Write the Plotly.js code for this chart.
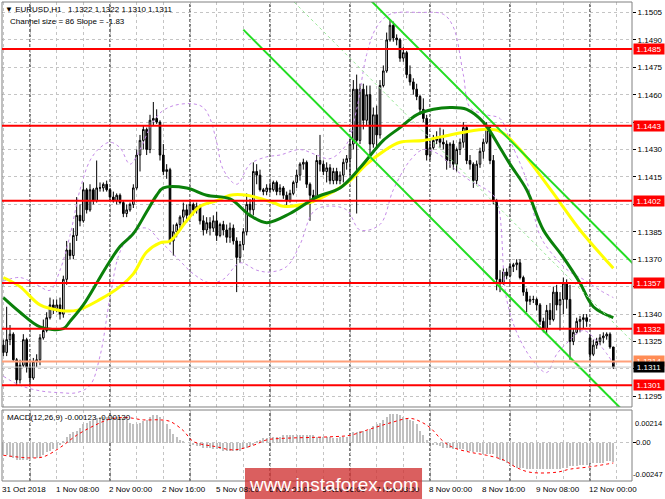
<!DOCTYPE html>
<html><head><meta charset="utf-8">
<script src="https://cdn.plot.ly/plotly-3.0.1.min.js"></script>
<style>html,body{margin:0;padding:0;background:#fff;overflow:hidden}#chart{width:665px;height:499px}</style>
</head><body><div id="chart"></div>
<script>
// ---- DATA (EURUSD H1, bar index 0 = 31 Oct 2018 16:00) ----
const openP = [1.1323,1.1319,1.1326,1.1329,1.1315,1.1304,1.1312,1.1326,1.1311,1.1305,
1.1314,1.1315,1.1327,1.1331,1.1338,1.1345,1.1343,1.1345,1.1340,1.1359,
1.1375,1.1372,1.1383,1.1394,1.1391,1.1408,1.1397,1.1408,1.1402,1.1409,
1.1409,1.1411,1.1408,1.1404,1.1402,1.1405,1.1401,1.1395,1.1397,1.1400,
1.1409,1.1427,1.1435,1.1441,1.1430,1.1446,1.1447,1.1445,1.1427,1.1418,
1.1419,1.1380,1.1385,1.1389,1.1393,1.1397,1.1394,1.1400,1.1397,1.1399,
1.1391,1.1386,1.1390,1.1387,1.1391,1.1383,1.1389,1.1386,1.1382,1.1387,
1.1380,1.1371,1.1378,1.1385,1.1400,1.1397,1.1418,1.1416,1.1408,1.1407,
1.1409,1.1408,1.1412,1.1407,1.1409,1.1405,1.1402,1.1406,1.1412,1.1416,
1.1422,1.1423,1.1411,1.1405,1.1403,1.1424,1.1422,1.1418,1.1420,1.1413,
1.1418,1.1413,1.1416,1.1423,1.1425,1.1433,1.1463,1.1435,1.1463,1.1446,
1.1460,1.1433,1.1449,1.1438,1.1465,1.1473,1.1490,1.1498,1.1491,1.1490,
1.1480,1.1483,1.1471,1.1467,1.1463,1.1459,1.1452,1.1447,1.1427,1.1431,
1.1435,1.1436,1.1434,1.1433,1.1424,1.1433,1.1422,1.1430,1.1434,1.1442,
1.1424,1.1422,1.1413,1.1422,1.1429,1.1434,1.1442,1.1424,1.1402,1.1359,
1.1357,1.1363,1.1361,1.1366,1.1367,1.1368,1.1360,1.1352,1.1347,1.1348,
1.1348,1.1345,1.1336,1.1332,1.1342,1.1337,1.1352,1.1345,1.1348,1.1357,
1.1348,1.1325,1.1330,1.1336,1.1337,1.1338,1.1327,1.1318,1.1323,1.1325,
1.1327,1.1328,1.1329,1.1322];
const highP = [1.1326,1.1344,1.1334,1.1330,1.1316,1.1315,1.1329,1.1327,1.1314,1.1316,
1.1318,1.1329,1.1337,1.1341,1.1349,1.1348,1.1348,1.1349,1.1361,1.1380,
1.1379,1.1387,1.1404,1.1400,1.1412,1.1409,1.1411,1.1409,1.1424,1.1412,
1.1412,1.1413,1.1409,1.1407,1.1406,1.1406,1.1402,1.1400,1.1401,1.1411,
1.1430,1.1438,1.1443,1.1442,1.1449,1.1456,1.1452,1.1446,1.1433,1.1422,
1.1420,1.1389,1.1390,1.1394,1.1401,1.1400,1.1402,1.1401,1.1401,1.1400,
1.1394,1.1393,1.1393,1.1394,1.1396,1.1390,1.1391,1.1389,1.1390,1.1389,
1.1382,1.1380,1.1387,1.1406,1.1403,1.1423,1.1422,1.1419,1.1409,1.1411,
1.1412,1.1413,1.1413,1.1411,1.1410,1.1407,1.1408,1.1413,1.1419,1.1423,
1.1425,1.1424,1.1412,1.1408,1.1427,1.1438,1.1424,1.1423,1.1422,1.1420,
1.1420,1.1418,1.1425,1.1427,1.1436,1.1468,1.1471,1.1466,1.1466,1.1465,
1.1465,1.1453,1.1454,1.1468,1.1476,1.1494,1.1501,1.1500,1.1493,1.1491,
1.1486,1.1484,1.1476,1.1469,1.1466,1.1460,1.1458,1.1449,1.1435,1.1438,
1.1440,1.1442,1.1441,1.1435,1.1434,1.1435,1.1431,1.1436,1.1445,1.1443,
1.1427,1.1423,1.1424,1.1431,1.1436,1.1445,1.1443,1.1427,1.1403,1.1364,
1.1365,1.1365,1.1368,1.1368,1.1370,1.1370,1.1361,1.1354,1.1350,1.1350,
1.1349,1.1346,1.1338,1.1345,1.1346,1.1355,1.1356,1.1352,1.1360,1.1359,
1.1356,1.1332,1.1338,1.1339,1.1340,1.1340,1.1329,1.1326,1.1327,1.1329,
1.1330,1.1330,1.1330,1.1322];
const lowP = [1.1317,1.1317,1.1323,1.1314,1.1301,1.1302,1.1311,1.1308,1.1301,1.1304,
1.1311,1.1312,1.1326,1.1330,1.1337,1.1340,1.1341,1.1337,1.1338,1.1356,
1.1370,1.1370,1.1380,1.1388,1.1390,1.1395,1.1396,1.1400,1.1401,1.1407,
1.1407,1.1407,1.1402,1.1401,1.1400,1.1400,1.1393,1.1393,1.1396,1.1398,
1.1408,1.1418,1.1430,1.1427,1.1428,1.1443,1.1444,1.1424,1.1416,1.1414,
1.1378,1.1372,1.1382,1.1386,1.1389,1.1390,1.1393,1.1394,1.1395,1.1389,
1.1383,1.1384,1.1383,1.1385,1.1380,1.1382,1.1383,1.1379,1.1379,1.1378,
1.1352,1.1368,1.1375,1.1383,1.1393,1.1394,1.1411,1.1407,1.1405,1.1405,
1.1406,1.1407,1.1405,1.1405,1.1403,1.1399,1.1401,1.1405,1.1409,1.1413,
1.1419,1.1409,1.1391,1.1401,1.1402,1.1418,1.1416,1.1412,1.1411,1.1411,
1.1411,1.1411,1.1412,1.1419,1.1416,1.1430,1.1395,1.1433,1.1441,1.1443,
1.1427,1.1431,1.1431,1.1436,1.1464,1.1472,1.1489,1.1489,1.1487,1.1478,
1.1478,1.1469,1.1465,1.1460,1.1457,1.1449,1.1445,1.1424,1.1424,1.1430,
1.1433,1.1431,1.1430,1.1419,1.1420,1.1419,1.1418,1.1427,1.1431,1.1422,
1.1419,1.1409,1.1411,1.1420,1.1425,1.1433,1.1422,1.1400,1.1353,1.1352,
1.1356,1.1359,1.1360,1.1363,1.1364,1.1359,1.1350,1.1341,1.1345,1.1346,
1.1342,1.1334,1.1330,1.1329,1.1334,1.1336,1.1342,1.1331,1.1340,1.1343,
1.1315,1.1323,1.1329,1.1330,1.1332,1.1333,1.1315,1.1317,1.1321,1.1323,
1.1324,1.1326,1.1321,1.1310];
const closeP = [1.1319,1.1326,1.1329,1.1315,1.1304,1.1312,1.1326,1.1311,1.1305,1.1314,
1.1315,1.1327,1.1331,1.1338,1.1345,1.1343,1.1345,1.1340,1.1359,1.1375,
1.1372,1.1383,1.1394,1.1391,1.1408,1.1397,1.1408,1.1402,1.1409,1.1409,
1.1411,1.1408,1.1404,1.1402,1.1405,1.1401,1.1395,1.1397,1.1400,1.1409,
1.1427,1.1435,1.1441,1.1430,1.1446,1.1447,1.1445,1.1427,1.1418,1.1419,
1.1380,1.1385,1.1389,1.1393,1.1397,1.1394,1.1400,1.1397,1.1399,1.1391,
1.1386,1.1390,1.1387,1.1391,1.1383,1.1389,1.1386,1.1382,1.1387,1.1380,
1.1371,1.1378,1.1385,1.1400,1.1397,1.1418,1.1416,1.1408,1.1407,1.1409,
1.1408,1.1412,1.1407,1.1409,1.1405,1.1402,1.1406,1.1412,1.1416,1.1422,
1.1423,1.1411,1.1405,1.1403,1.1424,1.1422,1.1418,1.1420,1.1413,1.1418,
1.1413,1.1416,1.1423,1.1425,1.1433,1.1463,1.1435,1.1463,1.1446,1.1460,
1.1433,1.1449,1.1438,1.1465,1.1473,1.1490,1.1498,1.1491,1.1490,1.1480,
1.1483,1.1471,1.1467,1.1463,1.1459,1.1452,1.1447,1.1427,1.1431,1.1435,
1.1436,1.1434,1.1433,1.1424,1.1433,1.1422,1.1430,1.1434,1.1442,1.1424,
1.1422,1.1413,1.1422,1.1429,1.1434,1.1442,1.1424,1.1402,1.1359,1.1357,
1.1363,1.1361,1.1366,1.1367,1.1368,1.1360,1.1352,1.1347,1.1348,1.1348,
1.1345,1.1336,1.1332,1.1342,1.1337,1.1352,1.1345,1.1348,1.1357,1.1348,
1.1325,1.1330,1.1336,1.1337,1.1338,1.1336,1.1318,1.1323,1.1325,1.1327,
1.1328,1.1329,1.1322,1.1311];

// Moving averages (bar, price)
const greenBars = [0,5,11,18,20,24,29,32,35,39,43,46,48,55,61,68,74,79,86,94,101,107,114,119,124,129,134,139,144,149,152,157,162,168,173,177,183];
const greenMA = [1.1349,1.1341,1.1333,1.1332,1.1336,1.1345,1.1360,1.1369,1.1377,1.1384,1.1396,1.1405,1.1409,1.1409,1.1405,1.1403,1.1394,1.1390,1.1395,1.1404,1.1409,1.1420,1.1435,1.1442,1.1449,1.1452,1.1453,1.1452,1.1445,1.1431,1.1422,1.1408,1.1386,1.1371,1.1357,1.1344,1.1338];
const yellowBars = [0,5,11,17,22,29,35,39,43,47,50,55,59,64,68,73,81,84,92,99,104,109,114,119,126,134,144,149,155,161,167,173,183];
const yellowMA = [1.1360,1.1355,1.1345,1.1342,1.1342,1.1348,1.1355,1.1362,1.1374,1.1379,1.1380,1.1391,1.1399,1.1402,1.1405,1.1405,1.1401,1.1399,1.1401,1.1407,1.1413,1.1422,1.1429,1.1434,1.1435,1.1438,1.1441,1.1440,1.1430,1.1416,1.1401,1.1386,1.1365];

// Bollinger bands (upper / lower)
const bbUpBars = [0,5,10,14,17,20,23,26,29,32,35,38,41,44,47,51,57,60,62,64,66,70,74,79,83,89,94,98,103,106,109,112,116,125,132,135,138,140,145,149,152,157,161,166,170,174,179,183];
const bbUpper = [1.1358,1.1360,1.1356,1.1353,1.1364,1.1383,1.1408,1.1424,1.1431,1.1434,1.1431,1.1422,1.1430,1.1442,1.1450,1.1454,1.1455,1.1453,1.1447,1.1434,1.1419,1.1411,1.1422,1.1426,1.1427,1.1430,1.1427,1.1425,1.1433,1.1452,1.1482,1.1497,1.1504,1.1505,1.1504,1.1497,1.1471,1.1453,1.1449,1.1447,1.1435,1.1413,1.1383,1.1370,1.1363,1.1359,1.1353,1.1349];
const bbLoBars = [0,5,11,17,22,26,29,32,35,39,43,47,52,57,62,66,71,76,80,85,89,93,97,103,107,113,117,122,126,131,135,140,145,148,151,155,160,163,166,169,174,179,183];
const bbLower = [1.1306,1.1301,1.1298,1.1297,1.1297,1.1301,1.1317,1.1349,1.1374,1.1385,1.1387,1.1380,1.1371,1.1362,1.1357,1.1359,1.1368,1.1364,1.1363,1.1366,1.1378,1.1396,1.1399,1.1397,1.1386,1.1389,1.1408,1.1424,1.1430,1.1427,1.1420,1.1413,1.1408,1.1402,1.1348,1.1326,1.1312,1.1308,1.1318,1.1324,1.1331,1.1323,1.1313];

// Regression channel (start bar, end bar, upper & lower prices)
const regBars = [72, 189];
const regUpper = [1.15815, 1.13674];
const regLower = [1.14956, 1.12815];

// MACD(12,26,9): main (histogram) and signal
const macdMain = [-0.0008,-0.0008,-0.0009,-0.0010,-0.0011,-0.0011,-0.0011,-0.0011,
-0.0011,-0.0010,-0.0010,-0.0009,-0.0008,-0.0006,-0.0005,
-0.0004,-0.0003,-0.0001,0.0001,
0.0004,0.0006,0.0007,0.0008,
0.0010,0.0012,0.0013,0.0014,0.0015,0.0016,0.0017,
0.0017,0.0017,0.0017,0.0017,0.0017,0.0016,0.0016,0.0015,
0.0013,0.0012,0.0012,0.0013,0.0014,0.0015,
0.0017,0.0018,0.0018,0.0017,
0.0014,0.0012,0.0009,0.0006,0.0004,0.0002,
0.0001,0.0000,
-0.0001,-0.0001,-0.0002,-0.0002,-0.0003,-0.0003,-0.0003,-0.0004,-0.0004,-0.0004,-0.0005,-0.0005,-0.0005,-0.0005,
-0.0005,-0.0005,-0.0004,-0.0003,-0.0002,-0.0001,
0.0001,0.0002,0.0003,0.0003,0.0004,
0.0004,0.0004,0.0004,0.0005,0.0005,0.0005,0.0005,0.0005,0.0005,0.0005,0.0005,0.0005,0.0005,0.0004,0.0004,0.0004,0.0004,0.0004,
0.0003,0.0003,0.0004,0.0004,0.0004,0.0005,
0.0007,0.0007,0.0008,0.0008,0.0008,0.0009,
0.0011,0.0012,0.0013,0.0015,0.0017,
0.0019,0.0019,0.0019,0.0018,0.0017,
0.0016,0.0015,0.0014,0.0012,
0.0008,0.0005,0.0002,
0.0000,-0.0001,-0.0001,-0.0002,
-0.0003,-0.0003,-0.0003,-0.0004,-0.0004,-0.0004,-0.0004,
-0.0005,-0.0005,-0.0006,-0.0006,-0.0006,-0.0007,-0.0007,-0.0007,-0.0007,
-0.0009,-0.0011,-0.0012,-0.0013,-0.0014,-0.0015,-0.0016,
-0.0016,-0.0016,-0.0017,-0.0017,-0.0017,-0.0017,-0.0017,-0.0017,-0.0017,-0.0017,-0.0017,-0.0017,-0.0017,-0.0016,-0.0016,-0.0015,
-0.0015,-0.0015,-0.0014,-0.0014,-0.0014,-0.0013,-0.0013,-0.0013,-0.0013,-0.0013,-0.0012,-0.0012,-0.00123];
const signalBars = [0,8,12,17,22,27,32,37,42,47,50,54,57,64,69,75,79,84,98,104,110,116,122,125,128,132,135,140,145,150,154,158,166,170,176,183];
const signalVals = [-0.0008,-0.00097,-0.0009,-0.0003,0.0005,0.0011,0.00155,0.00165,0.0015,0.0015,0.0014,0.0008,0.0001,-0.00025,-0.00045,-0.00015,0.0002,0.0003,0.0004,0.0005,0.0009,0.0013,0.0016,0.0014,0.0010,0.0001,-0.0003,-0.0006,-0.0008,-0.0011,-0.0016,-0.0019,-0.0019,-0.0017,-0.00155,-0.0013];

// Levels and labels
const redLevels = [1.1485, 1.1443, 1.1402, 1.1357, 1.1332, 1.1301];
const orangeLevel = 1.1314;
const bidLevel = 1.1311;
const priceTicks = [1.1295,1.1310,1.1325,1.1340,1.1355,1.1370,1.1385,1.1400,1.1415,1.1430,1.1445,1.1460,1.1475,1.1490,1.1505];
const hiddenTicks = [1.1310,1.1355,1.1400,1.1445]; // covered by level labels in the reference
const timeTickBars = [0,16,32,48,64,80,96,112,128,144,160,176];
const timeTickLabels = ["31 Oct 2018","1 Nov 08:00","2 Nov 00:00","2 Nov 16:00","5 Nov 08:00","6 Nov 00:00","6 Nov 16:00","7 Nov 08:00","8 Nov 00:00","8 Nov 16:00","9 Nov 08:00","12 Nov 00:00"];
const daySepBars = [8,32,56,80,104,128,152,176];
const macdScale = [0.00214, 0, -0.00247];

// ---- BUILD ----
const bars = closeP.map((_, i) => i);
const FONT = 'Liberation Sans, Arial, sans-serif';
const traces = [];

traces.push({type:'candlestick', x:bars, open:openP, high:highP, low:lowP, close:closeP,
  xaxis:'x', yaxis:'y', whiskerwidth:0, hoverinfo:'skip',
  increasing:{line:{color:'#000000', width:1}, fillcolor:'#ffffff'},
  decreasing:{line:{color:'#000000', width:1}, fillcolor:'#000000'}});

traces.push({type:'scatter', mode:'lines', x:bbUpBars, y:bbUpper, xaxis:'x', yaxis:'y',
  line:{color:'#c58be8', width:1, dash:'dot', shape:'spline', smoothing:1}, hoverinfo:'skip'});
traces.push({type:'scatter', mode:'lines', x:bbLoBars, y:bbLower, xaxis:'x', yaxis:'y',
  line:{color:'#c58be8', width:1, dash:'dot', shape:'spline', smoothing:1}, hoverinfo:'skip'});

traces.push({type:'scatter', mode:'lines', x:yellowBars, y:yellowMA, xaxis:'x', yaxis:'y',
  line:{color:'#ffff00', width:3, shape:'spline', smoothing:1}, hoverinfo:'skip'});
traces.push({type:'scatter', mode:'lines', x:greenBars, y:greenMA, xaxis:'x', yaxis:'y',
  line:{color:'#0a800a', width:3, shape:'spline', smoothing:1}, hoverinfo:'skip'});

const regMid = [(regUpper[0]+regLower[0])/2, (regUpper[1]+regLower[1])/2];
traces.push({type:'scatter', mode:'lines', x:regBars, y:regUpper, xaxis:'x', yaxis:'y',
  line:{color:'#22dd22', width:2}, hoverinfo:'skip'});
traces.push({type:'scatter', mode:'lines', x:regBars, y:regLower, xaxis:'x', yaxis:'y',
  line:{color:'#22dd22', width:2}, hoverinfo:'skip'});
traces.push({type:'scatter', mode:'lines', x:regBars, y:regMid, xaxis:'x', yaxis:'y',
  line:{color:'#9be89b', width:1, dash:'3px,3px'}, hoverinfo:'skip'});

traces.push({type:'bar', x:bars, y:macdMain, xaxis:'x', yaxis:'y2', width:0.55,
  marker:{color:'#c0c0c0', line:{width:0}}, hoverinfo:'skip'});
traces.push({type:'scatter', mode:'lines', x:signalBars, y:signalVals, xaxis:'x', yaxis:'y2',
  line:{color:'#ff0000', width:1, dash:'dot', shape:'spline', smoothing:1}, hoverinfo:'skip'});

// Axis grid ticks every 8 bars
const gridBars = [];
for (let b = 0; b <= 184; b += 8) gridBars.push(b);

const shapes = [];
const annotations = [];
const MAIN_DOM = [0.1545, 1], MACD_DOM = [0, 0.1482];
shapes.push({type:'rect', xref:'paper', yref:'paper', x0:0, x1:1, y0:MAIN_DOM[0], y1:MAIN_DOM[1], line:{color:'#808080', width:1}, layer:'above'});
shapes.push({type:'rect', xref:'paper', yref:'paper', x0:0, x1:1, y0:MACD_DOM[0], y1:MACD_DOM[1], line:{color:'#808080', width:1}, layer:'above'});
daySepBars.forEach(b => {
  shapes.push({type:'line', xref:'x', yref:'y domain', x0:b, x1:b, y0:0, y1:1, line:{color:'#000000', width:1, dash:'3px,2px'}, layer:'below'});
  shapes.push({type:'line', xref:'x', yref:'y2 domain', x0:b, x1:b, y0:0, y1:1, line:{color:'#000000', width:1, dash:'3px,2px'}, layer:'below'});
});
shapes.push({type:'line', xref:'paper', yref:'y', x0:0, x1:1, y0:bidLevel, y1:bidLevel, line:{color:'#c8c8c8', width:1}, layer:'above'});
shapes.push({type:'line', xref:'paper', yref:'y', x0:0, x1:1, y0:orangeLevel, y1:orangeLevel, line:{color:'#ffa07a', width:2}, layer:'above'});
redLevels.forEach(v => shapes.push({type:'line', xref:'paper', yref:'y', x0:0, x1:1, y0:v, y1:v, line:{color:'#ff0000', width:2}, layer:'above'}));

function priceLabel(v, bg, yshift) {
  annotations.push({xref:'paper', x:1, xanchor:'left', xshift:1, yref:'y', y:v, yanchor:'middle', yshift:yshift||0,
    text:v.toFixed(4), showarrow:false, bgcolor:bg, borderpad:0, width:30, height:10,
    font:{family:FONT, size:8, color:'#ffffff'}});
}
redLevels.forEach(v => priceLabel(v, '#ff0000'));
priceLabel(orangeLevel, '#ff8c55', 1);
priceLabel(bidLevel, '#000000');

// time labels (left-aligned at their bar, as in the terminal)
timeTickBars.forEach((b, k) => annotations.push({xref:'x', x:b, xanchor:'left', xshift:-3, yref:'paper', y:0, yanchor:'top', yshift:-2,
  text:timeTickLabels[k], showarrow:false, font:{family:FONT, size:8, color:'#000'}}));

// MACD scale labels
annotations.push({xref:'paper', x:1, xanchor:'left', xshift:2, yref:'y2', y:macdScale[0], yanchor:'middle', yshift:-13,
  text:macdScale[0].toFixed(5), showarrow:false, borderpad:0, font:{family:FONT, size:7.5, color:'#000'}});
annotations.push({xref:'paper', x:1, xanchor:'left', xshift:3, yref:'y2', y:macdScale[1], yanchor:'middle',
  text:'0.00', showarrow:false, borderpad:0, font:{family:FONT, size:7.5, color:'#000'}});
annotations.push({xref:'paper', x:1, xanchor:'left', xshift:0, yref:'y2', y:macdScale[2], yanchor:'middle', yshift:7,
  text:macdScale[2].toFixed(5), showarrow:false, borderpad:0, font:{family:FONT, size:7.5, color:'#000'}});

// header texts
annotations.push({xref:'paper', yref:'paper', x:0, y:1, xanchor:'left', yanchor:'top', xshift:1, yshift:-1,
  text:'\u25BC EURUSD,H1\u00A0\u00A0\u00A0' + [openP[183], highP[183], lowP[183], closeP[183]].map(v=>v.toFixed(4)).join(' '),
  showarrow:false, font:{family:FONT, size:8, color:'#000'}});
annotations.push({xref:'paper', yref:'paper', x:0, y:1, xanchor:'left', yanchor:'top', xshift:6, yshift:-13,
  text:'Channel size = 86 Slope = -1.83', showarrow:false, font:{family:FONT, size:8, color:'#000'}});
annotations.push({xref:'paper', yref:'paper', x:0, y:MACD_DOM[1], xanchor:'left', yanchor:'top', xshift:3, yshift:-1,
  text:'MACD(12,26,9) ' + macdMain[183].toFixed(5) + ' ' + signalVals[signalVals.length-1].toFixed(5),
  showarrow:false, font:{family:FONT, size:8, color:'#000'}});

// watermark
shapes.push({type:'rect', xref:'paper', yref:'paper', x0:0.3857, x1:0.6667, y0:-0.045, y1:0.0271,
  fillcolor:'rgba(208,50,50,0.78)', line:{width:0}, layer:'above'});
annotations.push({xref:'paper', yref:'paper', x:0.5262, y:-0.007, xanchor:'center', yanchor:'middle',
  text:'www.instaforex.com', showarrow:false, font:{family:FONT, size:19, color:'#ffffff'}});

const layout = {
  width:665, height:499,
  margin:{l:2, r:33, t:2, b:18, pad:0},
  paper_bgcolor:'#ffffff', plot_bgcolor:'#ffffff',
  showlegend:false, bargap:0,
  font:{family:FONT, size:8, color:'#000'},
  xaxis:{range:[-0.4, 188.6], anchor:'y2', tickmode:'array', tickvals:gridBars, ticktext:gridBars.map(()=>''),
    ticks:'', showgrid:true, gridcolor:'#c4c4c4', griddash:'3px,3px', zeroline:false, showline:false,
    rangeslider:{visible:false}, fixedrange:true},
  yaxis:{domain:MAIN_DOM, range:[1.128916, 1.151071], side:'right', anchor:'x', tickmode:'array',
    tickvals:priceTicks, ticktext:priceTicks.map(v=>hiddenTicks.includes(v)?'':v.toFixed(4)), ticks:'outside', ticklen:3, tickcolor:'#000',
    showgrid:true, gridcolor:'#c4c4c4', griddash:'3px,3px', zeroline:false, showline:false, fixedrange:true,
    tickfont:{family:FONT, size:8, color:'#000'}},
  yaxis2:{domain:MACD_DOM, range:[-0.00247, 0.00214], side:'right', anchor:'x', tickmode:'array',
    tickvals:[0], ticktext:[''], ticks:'outside', ticklen:3, tickcolor:'#000',
    showgrid:true, gridcolor:'#c4c4c4', griddash:'3px,3px', zeroline:false, showline:false, fixedrange:true},
  shapes:shapes, annotations:annotations
};

Plotly.newPlot('chart', traces, layout, {staticPlot:true, displayModeBar:false});
</script>
</body></html>
